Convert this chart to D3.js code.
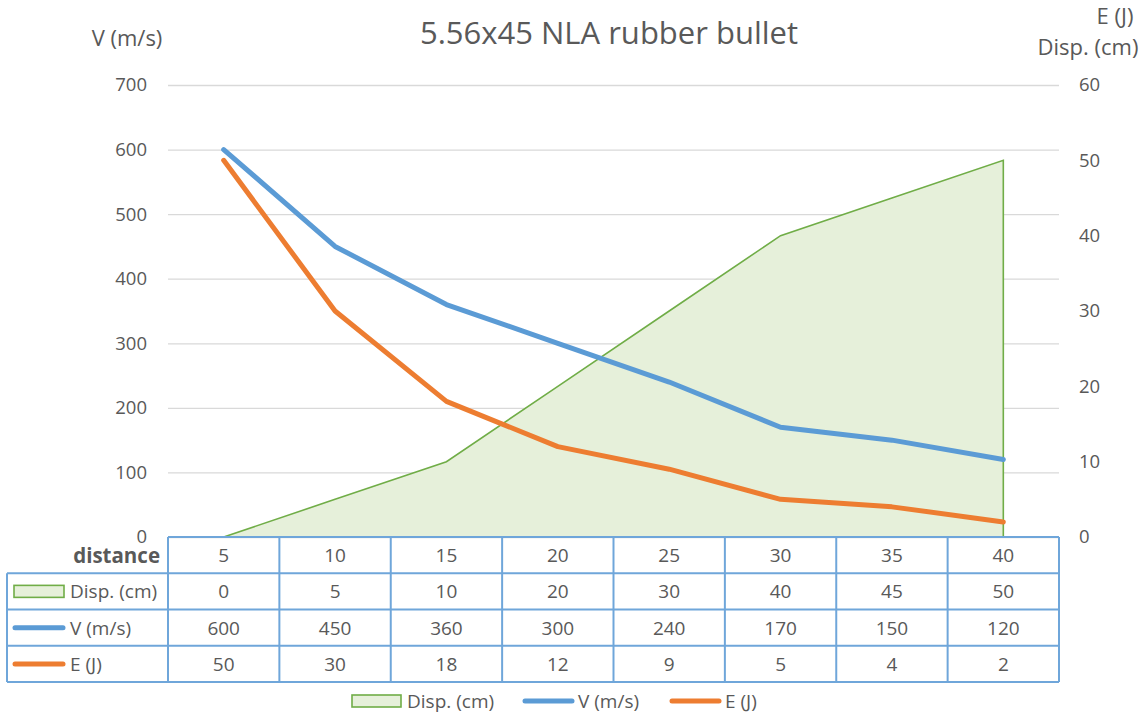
<!DOCTYPE html>
<html>
<head>
<meta charset="utf-8">
<script src="https://cdn.jsdelivr.net/npm/d3@7"></script>
<style>
  body { margin: 0; background: #fff; }
  text { font-family: "Open Sans", "Noto Sans", sans-serif; fill: #595959; }
  .grid line { stroke: #d9d9d9; stroke-width: 1.3; }
  .grid path { display: none; }
  .ticks path, .ticks line { display: none; }
</style>
</head>
<body>
<svg id="chart" width="1145" height="715"></svg>
<script>
// data
const distance = [5, 10, 15, 20, 25, 30, 35, 40];
const disp = [0, 5, 10, 20, 30, 40, 45, 50];
const velocity = [600, 450, 360, 300, 240, 170, 150, 120];
const energy = [50, 30, 18, 12, 9, 5, 4, 2];
const leftTicks = [0, 100, 200, 300, 400, 500, 600, 700];
const rightTicks = [0, 10, 20, 30, 40, 50, 60];

const svg = d3.select('#chart');
const plot = { left: 168, right: 1059, top: 85, bottom: 537 };
const colors = { disp: '#70ad47', dispFill: '#e6f0da', v: '#5b9bd5', e: '#ed7d31', border: '#6fa6da' };
const fs = '19px';

const x = d3.scaleBand().domain(distance).range([plot.left, plot.right]).padding(0);
const cx = d => x(d) + x.bandwidth() / 2;
const yL = d3.scaleLinear().domain([0, 700]).range([plot.bottom, plot.top]);
const yR = d3.scaleLinear().domain([0, 60]).range([plot.bottom, plot.top]);

// gridlines
svg.append('g').attr('class', 'grid')
    .attr('transform', `translate(${plot.left},0)`)
    .call(d3.axisLeft(yL).tickValues(leftTicks).tickSize(-(plot.right - plot.left)).tickFormat(''));

// left axis labels
svg.append('g').attr('class', 'ticks')
    .attr('transform', `translate(147,0)`)
    .call(d3.axisLeft(yL).tickValues(leftTicks).tickSize(0).tickPadding(0))
    .selectAll('text').style('font-size', '18.5px').attr('fill', '#595959');

// right axis labels
svg.append('g').attr('class', 'ticks')
    .attr('transform', `translate(1079,0)`)
    .call(d3.axisRight(yR).tickValues(rightTicks).tickSize(0).tickPadding(0))
    .selectAll('text').style('font-size', '18.5px').attr('fill', '#595959');
svg.selectAll('.ticks').attr('font-family', null);

// area for displacement
const area = d3.area()
    .x((d, i) => cx(distance[i]))
    .y0(yR(0))
    .y1(d => yR(d));
svg.append('path')
    .datum(disp)
    .attr('d', area)
    .attr('fill', colors.dispFill)
    .attr('stroke', 'none');
// outline: top edge plus right side drop
const outline = d3.line().x(d => d[0]).y(d => d[1]);
const outPts = disp.map((d, i) => [cx(distance[i]), yR(d)]);
outPts.push([cx(distance[distance.length - 1]), yR(0)]);
svg.append('path')
    .attr('d', outline(outPts))
    .attr('fill', 'none')
    .attr('stroke', colors.disp)
    .attr('stroke-width', 1.6);

// lines
const lineV = d3.line().x((d, i) => cx(distance[i])).y(d => yL(d));
const lineE = d3.line().x((d, i) => cx(distance[i])).y(d => yR(d));
svg.append('path').datum(velocity).attr('d', lineV)
    .attr('fill', 'none').attr('stroke', colors.v).attr('stroke-width', 5)
    .attr('stroke-linecap', 'round').attr('stroke-linejoin', 'round');
svg.append('path').datum(energy).attr('d', lineE)
    .attr('fill', 'none').attr('stroke', colors.e).attr('stroke-width', 5)
    .attr('stroke-linecap', 'round').attr('stroke-linejoin', 'round');

// title + axis titles
svg.append('text').attr('x', 609).attr('y', 44).attr('text-anchor', 'middle')
    .style('font-size', '31px').text('5.56x45 NLA rubber bullet');
svg.append('text').attr('x', 127).attr('y', 46).attr('text-anchor', 'middle')
    .style('font-size', '22px').text('V (m/s)');
svg.append('text').attr('x', 1115).attr('y', 24).attr('text-anchor', 'middle')
    .style('font-size', '22px').text('E (J)');
svg.append('text').attr('x', 1088).attr('y', 55).attr('text-anchor', 'middle')
    .style('font-size', '22px').text('Disp. (cm)');

// data table
const tableLeft = 7, tableTop = 537, tableBottom = 682;
const rowH = (tableBottom - tableTop) / 4;
const rows = [
  { label: 'distance', values: distance, key: null },
  { label: 'Disp. (cm)', values: disp, key: 'area' },
  { label: 'V (m/s)', values: velocity, key: colors.v },
  { label: 'E (J)', values: energy, key: colors.e }
];
const tbl = svg.append('g');
function hline(x1, x2, y) {
  tbl.append('line').attr('x1', x1).attr('x2', x2).attr('y1', y).attr('y2', y)
    .attr('stroke', colors.border).attr('stroke-width', 2);
}
function vline(xx, y1, y2) {
  tbl.append('line').attr('x1', xx).attr('x2', xx).attr('y1', y1).attr('y2', y2)
    .attr('stroke', colors.border).attr('stroke-width', 2);
}
hline(plot.left, plot.right, tableTop);
for (let r = 1; r <= 4; r++) hline(tableLeft, plot.right, tableTop + r * rowH);
vline(tableLeft, tableTop + rowH, tableBottom);
distance.forEach(d => vline(x(d), tableTop, tableBottom));
vline(plot.right, tableTop, tableBottom);

rows.forEach((row, r) => {
  const yMid = tableTop + r * rowH + rowH / 2;
  row.values.forEach((v, i) => {
    tbl.append('text').attr('x', cx(distance[i])).attr('y', yMid + 7)
      .attr('text-anchor', 'middle').style('font-size', fs).text(v);
  });
  if (r === 0) {
    tbl.append('text').attr('x', 160).attr('y', yMid + 8).attr('text-anchor', 'end')
      .style('font-size', '20.5px').style('font-weight', 'bold').text(row.label);
  } else {
    if (row.key === 'area') {
      tbl.append('rect').attr('x', 14).attr('y', yMid - 6).attr('width', 50).attr('height', 12)
        .attr('fill', colors.dispFill).attr('stroke', colors.disp).attr('stroke-width', 1.6);
    } else {
      tbl.append('line').attr('x1', 15).attr('x2', 63).attr('y1', yMid).attr('y2', yMid)
        .attr('stroke', row.key).attr('stroke-width', 5).attr('stroke-linecap', 'round');
    }
    tbl.append('text').attr('x', 70).attr('y', yMid + 7)
      .style('font-size', fs).text(row.label);
  }
});

// legend
const legY = 701;
const legend = [
  { label: 'Disp. (cm)', x: 352, type: 'area' },
  { label: 'V (m/s)', x: 523, type: colors.v },
  { label: 'E (J)', x: 670, type: colors.e }
];
legend.forEach(l => {
  if (l.type === 'area') {
    svg.append('rect').attr('x', l.x).attr('y', legY - 6).attr('width', 49).attr('height', 12)
      .attr('fill', colors.dispFill).attr('stroke', colors.disp).attr('stroke-width', 1.6);
  } else {
    svg.append('line').attr('x1', l.x + 2).attr('x2', l.x + 49).attr('y1', legY).attr('y2', legY)
      .attr('stroke', l.type).attr('stroke-width', 5).attr('stroke-linecap', 'round');
  }
  svg.append('text').attr('x', l.x + 55).attr('y', legY + 7)
    .style('font-size', fs).text(l.label);
});
</script>
</body>
</html>
